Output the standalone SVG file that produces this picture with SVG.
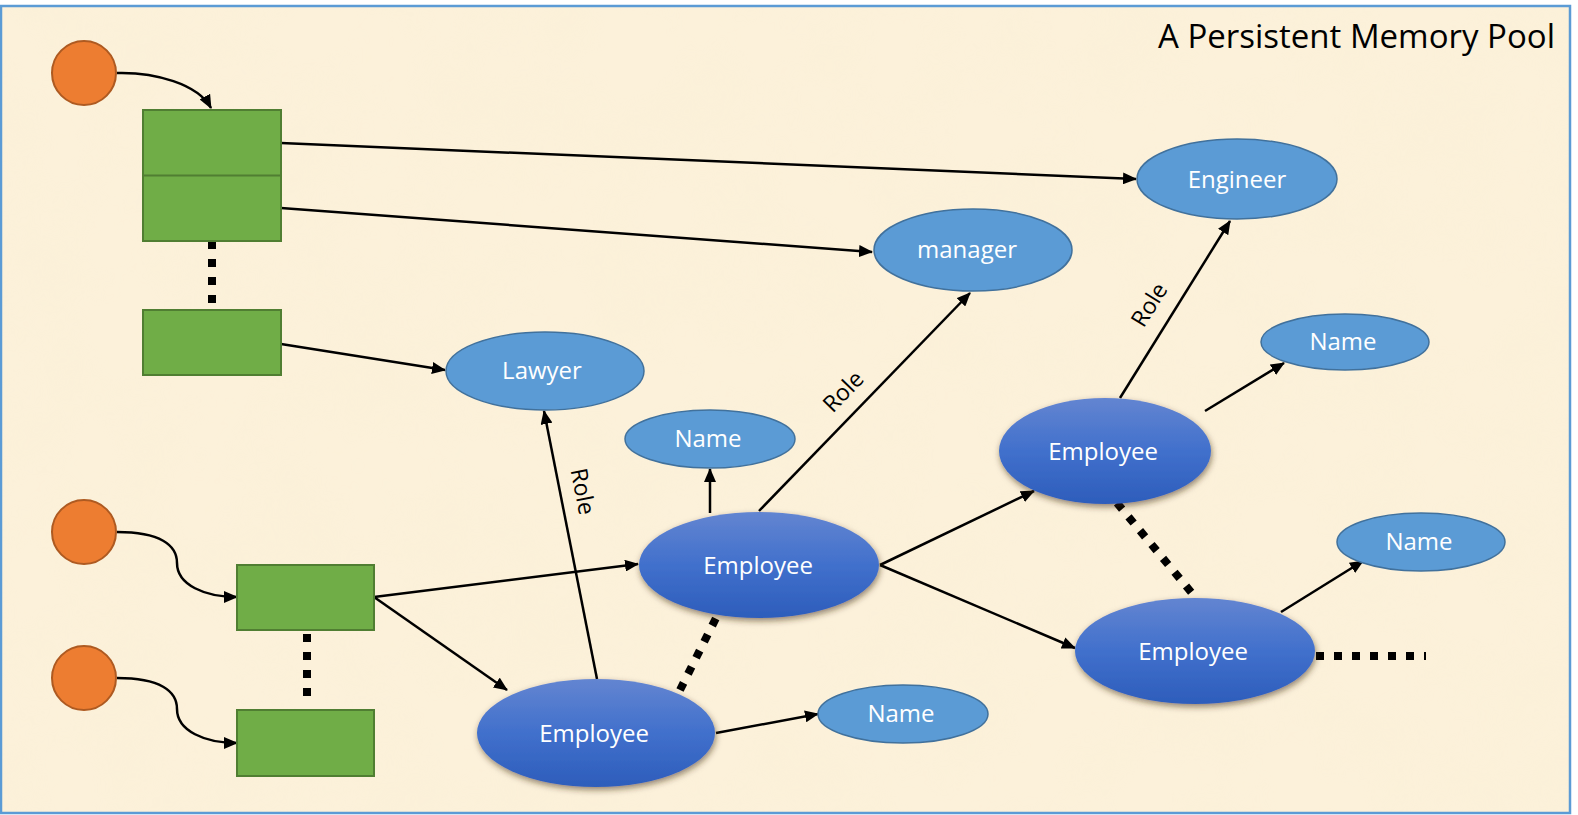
<svg xmlns="http://www.w3.org/2000/svg" width="1578" height="815" viewBox="0 0 1578 815">
<defs>
<style>
.lbl{font-family:"Open Sans","DejaVu Sans",sans-serif;font-size:24px;fill:#ffffff;text-anchor:middle}
.role{font-family:"Open Sans","DejaVu Sans",sans-serif;font-size:23px;fill:#000000;text-anchor:middle}
.attr{fill:#5b9bd5;stroke:#41719c;stroke-width:1.5}
.emp{fill:url(#empGrad);filter:url(#shadow)}
.box{fill:#70ad47;stroke:#507e32;stroke-width:2}
.root{fill:#ed7d31;stroke:#ae5a21;stroke-width:2}
.edge{fill:none;stroke:#000000;stroke-width:2.5}
.arr{marker-end:url(#ah)}
.dots{fill:none;stroke:#000000;stroke-width:8;stroke-dasharray:8 10}
</style>
<linearGradient id="empGrad" x1="0" y1="0" x2="0" y2="1">
<stop offset="0" stop-color="#6385d1"/>
<stop offset="0.5" stop-color="#4170cc"/>
<stop offset="1" stop-color="#2d5dbb"/>
</linearGradient>
<filter id="shadow" x="-20%" y="-20%" width="140%" height="150%">
<feDropShadow dx="1" dy="3" stdDeviation="3" flood-color="#3a2a10" flood-opacity="0.55"/>
</filter>
<filter id="paper" x="0" y="0" width="100%" height="100%">
<feTurbulence type="fractalNoise" baseFrequency="0.012" numOctaves="4" seed="7"/>
<feColorMatrix type="matrix" values="0 0 0 0 0.93  0 0 0 0 0.85  0 0 0 0 0.65  0 0 0 0.9 -0.3"/>
</filter>
<marker id="ah" markerUnits="userSpaceOnUse" markerWidth="14" markerHeight="12" refX="13" refY="6" orient="auto">
<path d="M0,0 L14,6 L0,12 z" fill="#000000"/>
</marker>
</defs>
<rect x="0" y="0" width="1578" height="815" fill="#ffffff"/>
<rect x="1" y="6" width="1569" height="807" fill="#fcf1da"/>
<rect x="1" y="6" width="1569" height="807" filter="url(#paper)" opacity="0.35"/>
<rect x="1" y="6" width="1569" height="807" fill="none" stroke="#5b9bd5" stroke-width="2.5"/>

<text x="1555" y="48" font-family="'Open Sans','DejaVu Sans',sans-serif" font-size="33" fill="#000000" text-anchor="end">A Persistent Memory Pool</text>

<g id="connectors">
<path class="edge arr" d="M117,73 C155,72 198,84 211,108"/>
<path class="edge arr" d="M117,532 C160,532 177,545 177,563 C177,585 205,597 237,597"/>
<path class="edge arr" d="M117,678 C160,678 177,691 177,709 C177,731 205,743 237,743"/>
<line class="dots" x1="212" y1="241" x2="212" y2="305"/>
<line class="dots" x1="307" y1="634" x2="307" y2="700"/>
<line class="edge arr" x1="281" y1="143" x2="1136" y2="179"/>
<line class="edge arr" x1="281" y1="208" x2="872" y2="252"/>
<line class="edge arr" x1="281" y1="344" x2="445" y2="370"/>
<line class="edge arr" x1="374" y1="597" x2="638" y2="564"/>
<line class="edge arr" x1="374" y1="597" x2="507" y2="690"/>
<line class="edge arr" x1="597" y1="679" x2="544" y2="411"/>
<line class="edge arr" x1="710" y1="513" x2="710" y2="469"/>
<line class="edge arr" x1="759" y1="511" x2="970" y2="293"/>
<line class="edge arr" x1="880" y1="565" x2="1034" y2="491"/>
<line class="edge arr" x1="880" y1="565" x2="1075" y2="648"/>
<line class="edge arr" x1="1120" y1="398" x2="1230" y2="221"/>
<line class="edge arr" x1="1205" y1="411" x2="1284" y2="363"/>
<line class="edge arr" x1="1281" y1="612" x2="1363" y2="561"/>
<line class="edge arr" x1="716" y1="733" x2="818" y2="714"/>
<line class="dots" x1="680" y1="690" x2="717" y2="616"/>
<line class="dots" x1="1117" y1="503" x2="1196" y2="598"/>
<line class="dots" x1="1316" y1="656" x2="1426" y2="656"/>
<text class="role" transform="translate(575,493) rotate(79)">Role</text>
<text class="role" transform="translate(849,397) rotate(-46)">Role</text>
<text class="role" transform="translate(1156,309) rotate(-58)">Role</text>
</g>

<g id="root1"><circle class="root" cx="84" cy="73" r="32"/></g>
<g id="root2"><circle class="root" cx="84" cy="532" r="32"/></g>
<g id="root3"><circle class="root" cx="84" cy="678" r="32"/></g>

<g id="table1"><rect class="box" x="143" y="110" width="138" height="131"/><line x1="143" y1="175.5" x2="281" y2="175.5" stroke="#507e32" stroke-width="2"/></g>
<g id="table2"><rect class="box" x="143" y="310" width="138" height="65"/></g>
<g id="table3"><rect class="box" x="237" y="565" width="137" height="65"/></g>
<g id="table4"><rect class="box" x="237" y="710" width="137" height="66"/></g>

<g id="engineer"><ellipse class="attr" cx="1237" cy="179" rx="100" ry="40"/><text class="lbl" x="1237" y="188">Engineer</text></g>
<g id="manager"><ellipse class="attr" cx="973" cy="250" rx="99" ry="41"/><text class="lbl" x="967" y="258">manager</text></g>
<g id="lawyer"><ellipse class="attr" cx="545" cy="371" rx="99" ry="39"/><text class="lbl" x="542" y="379">Lawyer</text></g>
<g id="name1"><ellipse class="attr" cx="710" cy="439" rx="85" ry="29"/><text class="lbl" x="708" y="447">Name</text></g>
<g id="name2"><ellipse class="attr" cx="1345" cy="342" rx="84" ry="28"/><text class="lbl" x="1343" y="350">Name</text></g>
<g id="name3"><ellipse class="attr" cx="1421" cy="542" rx="84" ry="29"/><text class="lbl" x="1419" y="550">Name</text></g>
<g id="name4"><ellipse class="attr" cx="903" cy="714" rx="85" ry="29"/><text class="lbl" x="901" y="722">Name</text></g>

<g id="employee1"><ellipse class="emp" cx="759" cy="565" rx="120" ry="53"/><text class="lbl" x="758" y="574">Employee</text></g>
<g id="employee2"><ellipse class="emp" cx="596" cy="733" rx="119" ry="54"/><text class="lbl" x="594" y="742">Employee</text></g>
<g id="employee3"><ellipse class="emp" cx="1105" cy="451" rx="106" ry="53"/><text class="lbl" x="1103" y="460">Employee</text></g>
<g id="employee4"><ellipse class="emp" cx="1195" cy="651" rx="120" ry="53"/><text class="lbl" x="1193" y="660">Employee</text></g>
</svg>
